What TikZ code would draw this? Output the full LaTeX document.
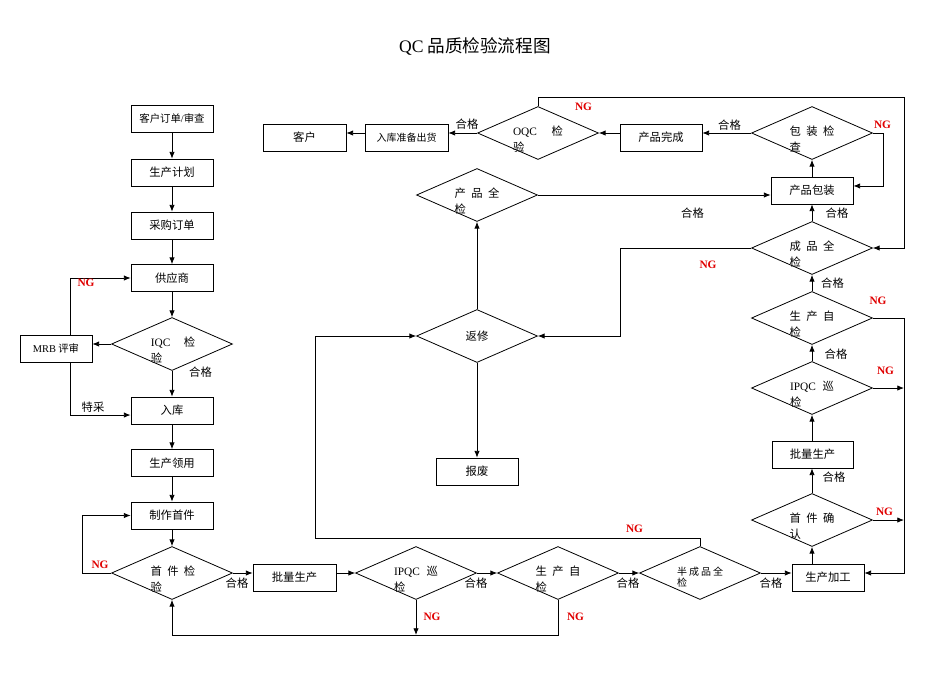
\documentclass[tikz,border=0pt]{standalone}
\usepackage{fontspec}
\setmainfont{Liberation Serif}
\newfontfamily\cjk{Noto Sans CJK SC}
\usetikzlibrary{shapes.geometric,arrows.meta,calc}
\definecolor{ngred}{HTML}{E00000}
\begin{document}
\begin{tikzpicture}[x=0.75pt,y=-0.75pt,
  every node/.style={font=\fontsize{8.5}{12}\selectfont\cjk},
  box/.style={draw, line width=0.6pt, minimum width=61.5pt, minimum height=20.25pt, inner sep=0pt},
  dia/.style={draw, diamond, line width=0.6pt, minimum width=90.75pt, minimum height=39.75pt, inner sep=0pt},
  dtxt/.style={align=left, inner sep=0pt},
  arr/.style={-{Latex[length=5pt,width=4pt]}, line width=0.6pt},
  ln/.style={line width=0.6pt},
  ng/.style={text=ngred, font=\fontsize{8.5}{10}\selectfont\rmfamily\bfseries, inner sep=0pt},
  ok/.style={inner sep=0pt}
]
\useasboundingbox (0,0) rectangle (950,672);
\node[font=\fontsize{13.2}{15}\selectfont\cjk] (title) at (475,46) {{\rmfamily QC} 品质检验流程图};

% left column
\node[box, font=\fontsize{7.8}{10}\selectfont\cjk] (b1) at (172,119) {客户订单{\rmfamily/}审查};
\node[box] (b2) at (172,172.5) {生产计划};
\node[box] (b3) at (172,225.5) {采购订单};
\node[box] (b4) at (172,278) {供应商};
\node[dia] (iqc) at (172,344) {};
\node[dtxt] (iqct) at (173,350) {{\rmfamily IQC}\hspace{10pt}检\\验};
\node[box, minimum width=54pt, font=\fontsize{7.8}{10}\selectfont\cjk] (mrb) at (56,348.5) {{\rmfamily MRB} 评审};
\node[box] (b5) at (172,410.5) {入库};
\node[box] (b6) at (172,463) {生产领用};
\node[box] (b7) at (172,515.5) {制作首件};
\node[dia] (fa) at (172,573) {};
\node[dtxt] (fat) at (173,579) {首\hspace{4pt}件\hspace{4pt}检\\验};

% bottom row
\node[box, minimum width=62.25pt] (b8) at (294.5,577.5) {批量生产};
\node[dia] (ip1) at (416,573) {};
\node[dtxt] (ip1t) at (416,579) {{\rmfamily IPQC}\hspace{5pt}巡\\检};
\node[dia] (zj1) at (558,573) {};
\node[dtxt] (zj1t) at (558,579) {生\hspace{4pt}产\hspace{4pt}自\\检};
\node[dia] (bcp) at (700,573) {};
\node[dtxt, font=\fontsize{7.5}{8}\selectfont\cjk] (bcpt) at (700,577) {半\hspace{1.5pt}成\hspace{1.5pt}品\hspace{1.5pt}全\\检};
\node[box, minimum width=54pt] (jg) at (828,577.5) {生产加工};

% right column
\node[dia] (sq) at (812,520) {};
\node[dtxt] (sqt) at (812,526) {首\hspace{4pt}件\hspace{4pt}确\\认};
\node[box, minimum width=60.75pt] (pl2) at (812.5,454.5) {批量生产};
\node[dia] (ip2) at (812,388) {};
\node[dtxt] (ip2t) at (812,394) {{\rmfamily IPQC}\hspace{5pt}巡\\检};
\node[dia] (zj2) at (812,318) {};
\node[dtxt] (zj2t) at (812,324) {生\hspace{4pt}产\hspace{4pt}自\\检};
\node[dia] (cp) at (812,248) {};
\node[dtxt] (cpt) at (812,254) {成\hspace{4pt}品\hspace{4pt}全\\检};
\node[box] (bz) at (812,190.5) {产品包装};
\node[dia] (bj) at (812,133) {};
\node[dtxt] (bjt) at (812,139) {包\hspace{4pt}装\hspace{4pt}检\\查};

% top row
\node[box] (wc) at (661,137.5) {产品完成};
\node[dia] (oqc) at (538,133) {};
\node[dtxt] (oqct) at (538,139) {{\rmfamily OQC}\hspace{11pt}检\\验};
\node[box, minimum width=62.25pt, font=\fontsize{7.5}{10}\selectfont\cjk] (rk) at (406.5,137.5) {入库准备出货};
\node[box, minimum width=62.25pt] (kh) at (304.5,137.5) {客户};

% middle
\node[dia] (cq) at (477,195) {};
\node[dtxt] (cqt) at (477,201) {产\hspace{4pt}品\hspace{4pt}全\\检};
\node[dia] (fx) at (477,336) {};
\node[dtxt] (fxt) at (477,336) {返修};
\node[box] (bf) at (477,471.5) {报废};

% helper coordinates
\coordinate (xm) at (70,0);
\coordinate (xf) at (82,0);
\coordinate (yb) at (0,635);
\coordinate (c1) at (315,538);
\coordinate (xr) at (904,0);
\coordinate (yj) at (0,573);
\coordinate (c2) at (904,97);
\coordinate (xc) at (620,0);
\coordinate (xb) at (883,0);

% left column connectors
\draw[arr] (b1) -- (b2);
\draw[arr] (b2) -- (b3);
\draw[arr] (b3) -- (b4);
\draw[arr] (b4.south) -- (iqc.north);
\draw[arr] (iqc.south) -- (b5.north);
\draw[arr] (iqc.west) -- (iqc.west -| mrb.east);
\draw[arr] (mrb.north -| xm) |- (b4.west);
\draw[arr] (mrb.south -| xm) |- ([yshift=-3.4pt]b5.west);
\draw[arr] (b5) -- (b6);
\draw[arr] (b6) -- (b7);
\draw[arr] (b7.south) -- (fa.north);
\draw[arr] (fa.west) -- (fa.west -| xf) |- (b7.west);

% bottom row connectors
\draw[arr] (fa.east) -- (fa.east -| b8.west);
\draw[arr] (b8.east |- ip1.west) -- (ip1.west);
\draw[arr] (ip1.east) -- (zj1.west);
\draw[arr] (zj1.east) -- (bcp.west);
\draw[arr] (bcp.east) -- (bcp.east -| jg.west);
\draw[arr] (ip1.south) -- (ip1.south |- yb);
\draw[arr] (zj1.south) -- (zj1.south |- yb) -| (fa.south);
\draw[arr] (bcp.north) |- (c1) |- (fx.west);

% right column connectors
\draw[arr] (jg.north -| sq.south) -- (sq.south);
\draw[arr] (sq.north) -- (pl2.south -| sq.north);
\draw[arr] (pl2.north -| ip2.south) -- (ip2.south);
\draw[arr] (ip2.north) -- (zj2.south);
\draw[arr] (zj2.north) -- (cp.south);
\draw[arr] (cp.north) -- (bz.south);
\draw[arr] (bz.north) -- (bj.south);
\draw[arr] (zj2.east) -- (zj2.east -| xr) -- (xr |- yj) -- (jg.east |- yj);
\draw[arr] (ip2.east) -- (ip2.east -| xr);
\draw[arr] (sq.east) -- (sq.east -| xr);
\draw[arr] (bj.east) -- (bj.east -| xb) |- ([yshift=3.4pt]bz.east);
\draw[arr] (oqc.north) |- (c2) |- (cp.east);
\draw[arr] (cp.west) -- (cp.west -| xc) |- (fx.east);

% top row connectors
\draw[arr] (bj.west) -- (bj.west -| wc.east);
\draw[arr] (wc.west |- oqc.east) -- (oqc.east);
\draw[arr] (oqc.west) -- (oqc.west -| rk.east);
\draw[arr] (rk.west |- oqc.west) -- (kh.east |- oqc.west);

% middle connectors
\draw[arr] (cq.east) -- (cq.east -| bz.west);
\draw[arr] (fx.north) -- (cq.south);
\draw[arr] (fx.south) -- (bf.north);

% pass labels
\node[ok] (l1) at (200.5,372) {合格};
\node[ok] (l2) at (237,583) {合格};
\node[ok] (l3) at (476,583) {合格};
\node[ok] (l4) at (628,583) {合格};
\node[ok] (l5) at (771,583) {合格};
\node[ok] (l6) at (834,477) {合格};
\node[ok] (l7) at (836,354) {合格};
\node[ok] (l8) at (832.5,283) {合格};
\node[ok] (l9) at (837,213) {合格};
\node[ok] (l10) at (692.5,213) {合格};
\node[ok] (l11) at (729.5,125) {合格};
\node[ok] (l12) at (467,124) {合格};
\node[ok] (l13) at (93,407) {特采};

% NG labels
\node[ng] (n1) at (86,283) {NG};
\node[ng] (n2) at (100,565) {NG};
\node[ng] (n3) at (432,617) {NG};
\node[ng] (n4) at (575.5,617) {NG};
\node[ng] (n5) at (634.5,529) {NG};
\node[ng] (n6) at (884.5,512) {NG};
\node[ng] (n7) at (885.5,371) {NG};
\node[ng] (n8) at (878,301) {NG};
\node[ng] (n9) at (708,265) {NG};
\node[ng] (n10) at (882.5,125) {NG};
\node[ng] (n11) at (583.5,107) {NG};
\end{tikzpicture}
\end{document}
